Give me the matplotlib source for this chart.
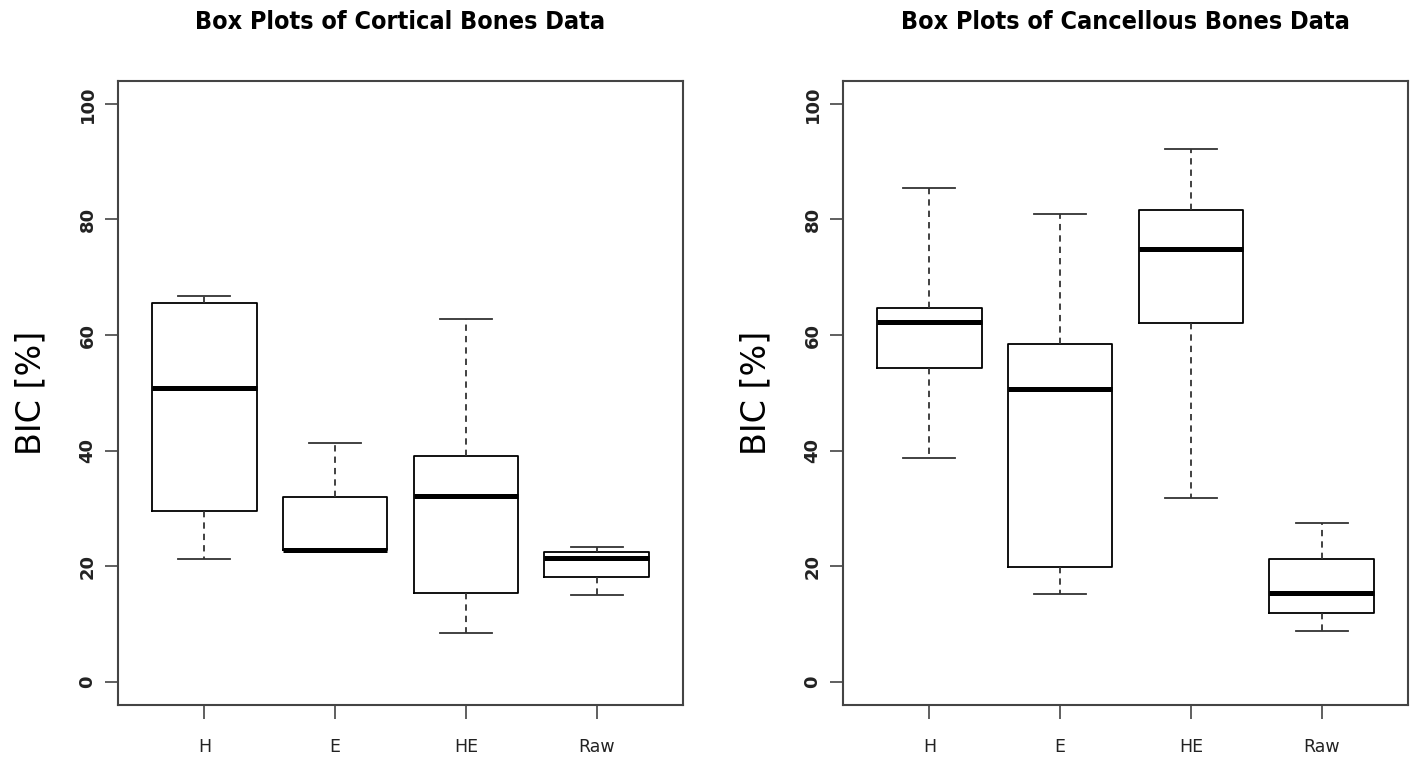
import matplotlib
matplotlib.use("Agg")
import matplotlib.pyplot as plt

# group names and box statistics
groups = ["H", "E", "HE", "Raw"]

cort_low = [21.3, 22.8, 8.4, 15.0]
cort_q1 = [29.5, 22.8, 15.4, 18.1]
cort_med = [50.9, 22.8, 32.2, 21.4]
cort_q3 = [65.6, 32.0, 39.0, 22.4]
cort_high = [66.7, 41.3, 62.8, 23.4]

canc_low = [38.7, 15.2, 31.8, 8.8]
canc_q1 = [54.3, 19.8, 62.1, 12.0]
canc_med = [62.2, 50.6, 74.8, 15.3]
canc_q3 = [64.6, 58.4, 81.6, 21.3]
canc_high = [85.5, 80.9, 92.2, 27.4]

yticks = [0, 20, 40, 60, 80, 100]

titles = ["Box Plots of Cortical Bones Data", "Box Plots of Cancellous Bones Data"]
ylab = "BIC [%]"

fig = plt.figure(figsize=(14.17, 7.61), dpi=100)
W, H = 1417.0, 761.0

# axes frames in pixels (left, right), shared top/bottom
frames = [(118, 683), (843, 1408)]
top, bottom = 80.7, 705.0

data = [
    (cort_low, cort_q1, cort_med, cort_q3, cort_high),
    (canc_low, canc_q1, canc_med, canc_q3, canc_high),
]

for k, (x0, x1) in enumerate(frames):
    ax = fig.add_axes([x0 / W, 1 - bottom / H, (x1 - x0) / W, (bottom - top) / H])
    low, q1, med, q3, high = data[k]
    stats = []
    for i in range(len(groups)):
        stats.append(dict(whislo=low[i], q1=q1[i], med=med[i], q3=q3[i],
                          whishi=high[i], label=groups[i]))
    ax.bxp(stats, positions=range(1, len(groups) + 1), widths=0.8,
           showfliers=False, capwidths=0.4,
           boxprops=dict(color="black", linewidth=1.3),
           medianprops=dict(color="black", linewidth=3.6, solid_capstyle="butt"),
           whiskerprops=dict(color="#333333", linewidth=1.3, linestyle=(0, (3.5, 2.8))),
           capprops=dict(color="#333333", linewidth=1.3))

    ax.set_xlim(0.34, 4.66)
    ax.set_ylim(-4, 104)
    ax.set_yticks(yticks)
    ax.set_yticklabels([str(v) for v in yticks], rotation=90, va="center",
                       fontsize=13, fontweight="bold", color="#222222")
    ax.set_xticks(range(1, len(groups) + 1))
    ax.set_xticklabels(groups, fontsize=12.5, color="#222222")
    ax.tick_params(axis="y", length=9.5, width=1.2, pad=6, color="#444444")
    ax.tick_params(axis="x", length=10, width=1.2, pad=14, color="#444444")
    for s in ax.spines.values():
        s.set_linewidth(1.5)
        s.set_color("#444444")

    ax.set_ylabel(ylab, fontsize=24, labelpad=22)
    fig.text(((x0 + x1) / 2) / W, 1 - 22 / H, titles[k], ha="center", va="center",
             fontsize=18, fontweight="bold", fontstretch="condensed",
             family=["DejaVu Sans"])

fig.savefig("out.png", dpi=100)
